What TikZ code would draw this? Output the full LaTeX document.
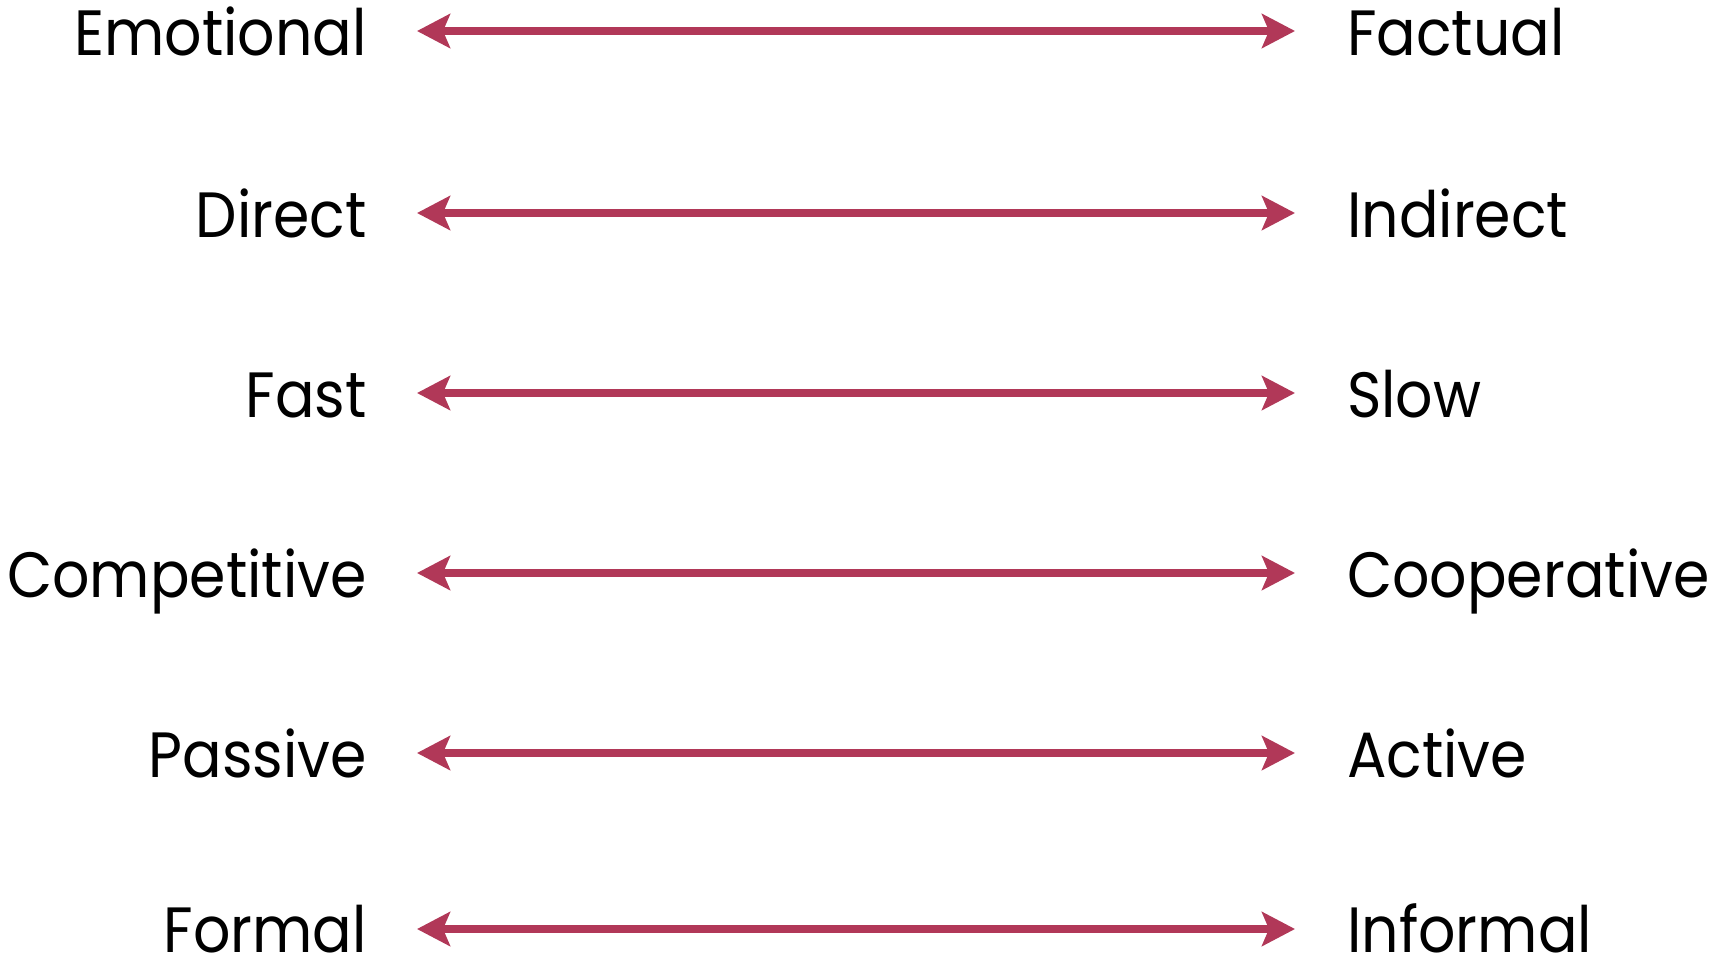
\documentclass[tikz,border=0pt]{standalone}
\usepackage{fontspec}
\setmainfont{Poppins}
\usetikzlibrary{arrows.meta}
\definecolor{arrowred}{RGB}{177,56,88}
\newcommand{\narrowtext}[1]{\scalebox{0.915}[1]{#1}}
\tikzset{
  lbl/.style={font=\fontsize{64}{70}\selectfont, text=black, inner sep=0pt},
  leftlbl/.style={lbl, anchor=base east},
  rightlbl/.style={lbl, anchor=base west},
  lastrow/.style={text depth=0pt},
  scalearrow/.style={draw=arrowred, line width=8.5pt,
    {Stealth[length=33pt,width=34pt,inset=7pt]}-{Stealth[length=33pt,width=34pt,inset=7pt]}}
}
\begin{document}
\begin{tikzpicture}[x=1pt,y=-1pt]
\useasboundingbox (0,0) rectangle (1724,959);
\foreach \i/\l/\r/\y in {1/Emotional/Factual/31, 2/Direct/Indirect/213, 3/Fast/Slow/393, 4/Competitive/Cooperative/573, 5/Passive/Active/753}{
  \node[leftlbl] (L\i) at (367,\y+24) {\narrowtext{\l}};
  \node[rightlbl] (R\i) at (1347,\y+24) {\narrowtext{\r}};
  \coordinate (A\i) at (417,\y);
  \coordinate (B\i) at (1295,\y);
  \draw[scalearrow] (A\i) -- (B\i);
}
\node[leftlbl, lastrow] (L6) at (367,952) {\narrowtext{Formal}};
\node[rightlbl, lastrow] (R6) at (1347,952) {\narrowtext{Informal}};
\coordinate (A6) at (417,929);
\coordinate (B6) at (1295,929);
\draw[scalearrow] (A6) -- (B6);
\end{tikzpicture}
\end{document}
